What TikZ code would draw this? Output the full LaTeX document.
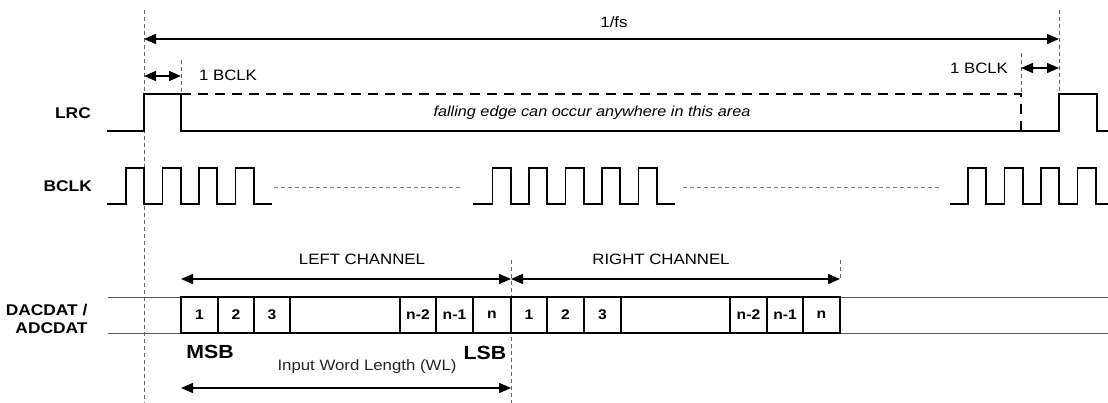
\documentclass[tikz,border=0pt]{standalone}
\usepackage{fontspec}
\setmainfont{Liberation Sans}[FakeStretch=1.12]
\usetikzlibrary{arrows.meta}
\begin{document}
\begin{tikzpicture}[x=1pt,y=-1pt,
  wave/.style={line width=1.8pt,black,line join=miter},
  guide/.style={gray!80!black,line width=0.7pt,dash pattern=on 4pt off 3pt},
  gap/.style={gray,line width=1pt,dash pattern=on 4pt off 3pt},
  dim/.style={line width=1.4pt,{Triangle[length=12pt,width=10pt]}-{Triangle[length=12pt,width=10pt]}},
  cellbox/.style={draw,line width=1.3pt,minimum height=36pt,inner sep=0pt,font=\bfseries\fontsize{14}{14}\selectfont},
  lbl/.style={font=\bfseries\fontsize{15.5}{18}\selectfont},
  txt/.style={font=\fontsize{15}{15}\selectfont,inner sep=0pt},
  big/.style={font=\bfseries\fontsize{19}{19}\selectfont,inner sep=0pt}]
\useasboundingbox (0,0) rectangle (1108,403);

% guide coordinates
\coordinate (gA1) at (144,10);  \coordinate (gA2) at (144,403);
\coordinate (gB1) at (181,60);  \coordinate (gB2) at (181,94);
\coordinate (gC1) at (1021,53); \coordinate (gC2) at (1021,94);
\coordinate (gD1) at (1059,10); \coordinate (gD2) at (1059,94);
\coordinate (gE1) at (511,260); \coordinate (gE2) at (511,403);
\coordinate (gF1) at (840,260); \coordinate (gF2) at (840,279);
\draw[guide] (gA1) -- (gA2);
\draw[guide] (gB1) -- (gB2);
\draw[guide] (gC1) -- (gC2);
\draw[guide] (gD1) -- (gD2);
\draw[guide] (gE1) -- (gE2);
\draw[guide] (gF1) -- (gF2);

% 1/fs
\coordinate (fsL) at (144,39); \coordinate (fsR) at (1059,39);
\draw[dim] (fsL) -- (fsR);
\node[txt] (fs) at (614,22) {1/fs};

% 1 BCLK
\coordinate (b1L) at (144,76); \coordinate (b1R) at (181,76);
\draw[dim] (b1L) -- (b1R);
\node[txt] (b1t) at (228,75) {1 BCLK};
\coordinate (b2L) at (1021,68); \coordinate (b2R) at (1059,68);
\draw[dim] (b2L) -- (b2R);
\node[txt] (b2t) at (979,68) {1 BCLK};

% LRC
\node[lbl,anchor=east,inner sep=0pt] (lrc) at (91,113) {LRC};
\draw[wave] (107,131) -- (144,131) -- (144,94) -- (181,94) -- (181,131) -- (1059,131)
  -- (1059,94) -- (1097,94) -- (1097,131) -- (1108,131);
\draw[wave,dash pattern=on 10pt off 7pt] (181,94) -- (1021,94) -- (1021,131);
\node[txt,font=\itshape\fontsize{14.5}{14.5}\selectfont] (fe) at (592,113) {falling edge can occur anywhere in this area};

% BCLK
\node[lbl,anchor=east,inner sep=0pt] (bclk) at (92,186) {BCLK};
\draw[wave] (107,204)
  \foreach \r in {126,162.5,199,235.5} { -- (\r,204) -- (\r,168) -- (\r+18.25,168) -- (\r+18.25,204) } -- (272,204);
\draw[wave] (473,204)
  \foreach \r in {492.5,529,565.5,602,638.5} { -- (\r,204) -- (\r,168) -- (\r+18.25,168) -- (\r+18.25,204) } -- (675,204);
\draw[wave] (950,204)
  \foreach \r in {968,1004.5,1041,1077.5} { -- (\r,204) -- (\r,168) -- (\r+18.25,168) -- (\r+18.25,204) } -- (1108,204);
\coordinate (d1a) at (274,188); \coordinate (d1b) at (462,188);
\coordinate (d2a) at (683,188); \coordinate (d2b) at (941,188);
\draw[gap] (d1a) -- (d1b);
\draw[gap] (d2a) -- (d2b);

% DACDAT
\node[lbl,align=right,anchor=east] (dac) at (91,319) {DACDAT /\\ADCDAT};
\draw[line width=0.8pt,gray!70!black] (108,297) -- (1108,297);
\draw[line width=0.8pt,gray!70!black] (108,333) -- (1108,333);
\foreach \a/\b/\t/\n in {181/218/1/L1,218/254/2/L2,254/290/3/L3,290/400//L4,400/436/n-2/L5,436/473/n-1/L6,473/511/n/L7,
  511/547/1/R1,547/584/2/R2,584/621/3/R3,621/730//R4,730/767/n-2/R5,767/803/n-1/R6,803/840/n/R7}
  \node[cellbox,minimum width={\b pt-\a pt}] (\n) at ({(\a+\b)/2},315) {\t};

% channels
\coordinate (lcL) at (181,279); \coordinate (lcR) at (511,279);
\coordinate (rcL) at (511,279); \coordinate (rcR) at (840,279);
\draw[dim] (lcL) -- (lcR);
\draw[dim] (rcL) -- (rcR);
\node[txt] (lct) at (362,259) {LEFT CHANNEL};
\node[txt] (rct) at (661,259) {RIGHT CHANNEL};

\node[big] (msb) at (210,352) {MSB};
\node[big] (lsb) at (485,353) {LSB};

\coordinate (wlL) at (181,388); \coordinate (wlR) at (511,388);
\draw[dim] (wlL) -- (wlR);
\node[txt,text=black!85] (wl) at (367,367) {Input Word Length (WL)};
\end{tikzpicture}
\end{document}
